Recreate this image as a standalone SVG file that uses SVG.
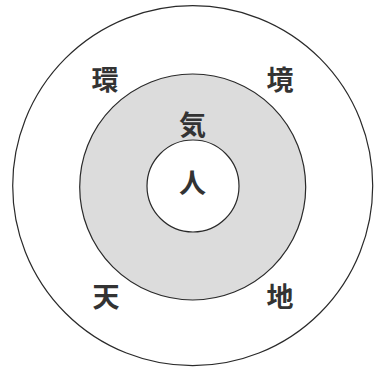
<svg xmlns="http://www.w3.org/2000/svg" width="375" height="368" viewBox="0 0 375 368">
<style>
.ring{stroke:#2a2a2a;stroke-width:1.2}
.t{font-family:"Noto Sans CJK JP","Noto Sans CJK SC",sans-serif;font-size:27px;font-weight:700;fill:#333333;text-anchor:middle}
</style>
<rect width="375" height="368" fill="#ffffff"/>
<g id="outer"><circle class="ring" cx="192.7" cy="185.7" r="180" fill="#ffffff"/></g>
<g id="ki-ring"><circle class="ring" cx="192.7" cy="187" r="113" fill="#dcdcdc"/></g>
<g id="hito"><circle class="ring" cx="193" cy="186" r="46" fill="#ffffff"/></g>
<g id="labels">
<text class="t" x="105" y="90">環</text>
<text class="t" x="280" y="90">境</text>
<text class="t" x="192.5" y="135">気</text>
<text class="t" x="192.5" y="193">人</text>
<text class="t" x="106" y="307">天</text>
<text class="t" x="280" y="307">地</text>
</g>
</svg>
